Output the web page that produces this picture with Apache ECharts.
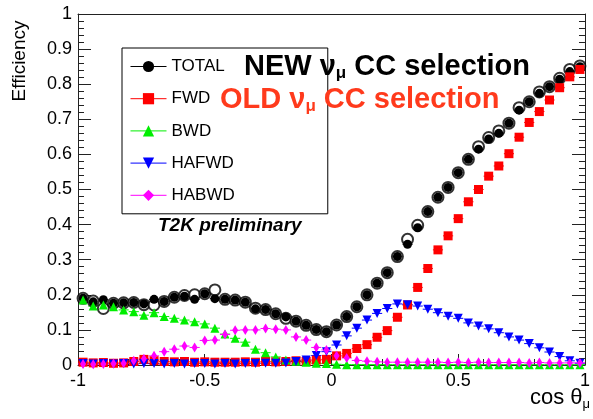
<!DOCTYPE html>
<html>
<head>
<meta charset="UTF-8">
<title>Efficiency vs cos theta</title>
<style>
  body { margin: 0; background: #fff; }
  #chart { width: 593px; height: 419px; }
</style>
</head>
<body>
<div id="chart"></div>
<script src="https://cdn.jsdelivr.net/npm/echarts@6/dist/echarts.min.js"></script>
<script>
// bin centres of cos(theta_mu), 50 bins of width 0.04
const cosBins = [
  -0.98, -0.94, -0.90, -0.86, -0.82, -0.78, -0.74, -0.70, -0.66, -0.62,
  -0.58, -0.54, -0.50, -0.46, -0.42, -0.38, -0.34, -0.30, -0.26, -0.22,
  -0.18, -0.14, -0.10, -0.06, -0.02, 0.02, 0.06, 0.10, 0.14, 0.18,
  0.22, 0.26, 0.30, 0.34, 0.38, 0.42, 0.46, 0.50, 0.54, 0.58,
  0.62, 0.66, 0.70, 0.74, 0.78, 0.82, 0.86, 0.90, 0.94, 0.98
];
const binHalfWidth = 0.02;

const total = [
  0.190, 0.180, 0.186, 0.176, 0.177, 0.178, 0.174, 0.187, 0.181, 0.193,
  0.196, 0.187, 0.203, 0.189, 0.187, 0.185, 0.179, 0.160, 0.158, 0.146,
  0.137, 0.125, 0.113, 0.101, 0.095, 0.114, 0.138, 0.166, 0.200, 0.233,
  0.263, 0.309, 0.344, 0.391, 0.437, 0.478, 0.506, 0.548, 0.586, 0.615,
  0.644, 0.660, 0.689, 0.726, 0.750, 0.774, 0.793, 0.814, 0.836, 0.850
];
// old selection total (open circles)
const totalOld = [
  0.190, 0.182, 0.161, 0.176, 0.177, 0.178, 0.172, 0.171, 0.181, 0.193,
  0.198, 0.200, 0.203, 0.214, 0.187, 0.185, 0.179, 0.162, 0.158, 0.146,
  0.133, 0.125, 0.113, 0.101, 0.095, 0.114, 0.138, 0.166, 0.200, 0.233,
  0.263, 0.309, 0.358, 0.398, 0.437, 0.478, 0.506, 0.548, 0.586, 0.622,
  0.648, 0.667, 0.689, 0.733, 0.750, 0.778, 0.793, 0.817, 0.842, 0.852
];
const fwd = [
  0.008, 0.006, 0.007, 0.005, 0.006, 0.010, 0.016, 0.012, 0.010, 0.009,
  0.010, 0.008, 0.009, 0.008, 0.008, 0.008, 0.009, 0.008, 0.010, 0.009,
  0.010, 0.012, 0.010, 0.014, 0.016, 0.026, 0.033, 0.047, 0.058, 0.079,
  0.098, 0.136, 0.171, 0.221, 0.275, 0.328, 0.368, 0.417, 0.465, 0.500,
  0.538, 0.567, 0.602, 0.649, 0.691, 0.722, 0.755, 0.790, 0.821, 0.842
];
const bwd = [
  0.185, 0.168, 0.171, 0.166, 0.157, 0.152, 0.142, 0.149, 0.138, 0.133,
  0.128, 0.123, 0.117, 0.105, 0.088, 0.076, 0.065, 0.045, 0.035, 0.023,
  0.014, 0.011, 0.008, 0.005, 0.004, 0.002, 0.001, 0.001, 0.001, 0.001,
  0.001, 0.001, 0.001, 0.001, 0.001, 0.001, 0.001, 0.001, 0.001, 0.001,
  0.001, 0.001, 0.001, 0.001, 0.001, 0.001, 0.001, 0.001, 0.001, 0.001
];
const hafwd = [
  0.004, 0.003, 0.004, 0.003, 0.004, 0.003, 0.004, 0.004, 0.003, 0.004,
  0.003, 0.004, 0.004, 0.003, 0.004, 0.003, 0.004, 0.004, 0.005, 0.005,
  0.006, 0.010, 0.014, 0.027, 0.038, 0.057, 0.083, 0.105, 0.128, 0.147,
  0.161, 0.174, 0.172, 0.168, 0.159, 0.149, 0.139, 0.133, 0.120, 0.111,
  0.103, 0.092, 0.080, 0.071, 0.061, 0.049, 0.037, 0.024, 0.012, 0.005
];
const habwd = [
  0.003, 0.002, 0.003, 0.004, 0.005, 0.012, 0.018, 0.026, 0.038, 0.045,
  0.054, 0.050, 0.070, 0.071, 0.087, 0.099, 0.100, 0.100, 0.104, 0.102,
  0.100, 0.080, 0.071, 0.050, 0.043, 0.026, 0.020, 0.013, 0.011, 0.009,
  0.008, 0.008, 0.008, 0.008, 0.008, 0.008, 0.007, 0.008, 0.007, 0.008,
  0.007, 0.007, 0.007, 0.007, 0.006, 0.007, 0.006, 0.006, 0.006, 0.006
];

const seriesDefs = [
  { name: 'TOTAL', values: total, color: '#000000', symbol: 'circle', size: 9, rotate: 0 },
  { name: 'FWD', values: fwd, color: '#ff0000', symbol: 'rect', size: 9, rotate: 0 },
  { name: 'BWD', values: bwd, color: '#00ee00', symbol: 'triangle', size: 9, rotate: 0 },
  { name: 'HAFWD', values: hafwd, color: '#0000ff', symbol: 'triangle', size: 9, rotate: 180 },
  { name: 'HABWD', values: habwd, color: '#ff00ff', symbol: 'diamond', size: [6, 10], rotate: 0 }
];

const font = 'Liberation Sans, Arial, sans-serif';
const oldRed = '#ff3a1c';
const chart = echarts.init(document.getElementById('chart'), null, { renderer: 'canvas' });

function pairs(vals) {
  return cosBins.map((x, i) => [x, vals[i]]);
}

function errBars(color) {
  return function (params, api) {
    const x = api.value(0), y = api.value(1);
    const a = api.coord([x - binHalfWidth, y]);
    const b = api.coord([x + binHalfWidth, y]);
    return {
      type: 'line',
      shape: { x1: a[0], y1: a[1], x2: b[0], y2: b[1] },
      style: { stroke: color, lineWidth: 1 }
    };
  };
}

const series = [];
seriesDefs.forEach(d => {
  series.push({
    name: d.name + ' err',
    type: 'custom',
    renderItem: errBars(d.color),
    data: pairs(d.values),
    silent: true
  });
  if (d.name === 'TOTAL') {
    series.push({
      name: 'TOTAL old',
      type: 'scatter',
      data: pairs(totalOld),
      symbol: 'emptyCircle',
      symbolSize: 11,
      itemStyle: { color: '#000', borderColor: '#000', borderWidth: 1 },
      silent: true
    });
  }
  series.push({
    name: d.name,
    type: 'line',
    data: pairs(d.values),
    symbol: d.symbol,
    symbolSize: d.size,
    symbolRotate: d.rotate,
    showAllSymbol: true,
    lineStyle: { width: 0 },
    itemStyle: { color: d.color },
    animation: false
  });
});

const axisCol = '#222';

chart.setOption({
  animation: false,
  backgroundColor: '#fff',
  grid: { left: 78, right: 1, top: 14, bottom: 54 },
  legend: {
    data: seriesDefs.map(d => d.name),
    orient: 'vertical',
    left: 122,
    top: 48,
    padding: [10, 93, 10, 8],
    itemGap: 15.2,
    itemWidth: 36,
    itemHeight: 14,
    backgroundColor: '#fff',
    borderColor: '#000',
    borderWidth: 1,
    borderRadius: 0,
    lineStyle: { width: 1 },
    textStyle: { fontSize: 17, color: '#000', fontFamily: font }
  },
  xAxis: [{
    type: 'value',
    min: -1, max: 1, interval: 0.5,
    axisLine: { onZero: false, lineStyle: { color: axisCol, width: 1 } },
    axisTick: { inside: true, length: 11, lineStyle: { color: axisCol } },
    minorTick: { show: true, splitNumber: 5, length: 6, lineStyle: { color: axisCol } },
    splitLine: { show: false },
    axisLabel: {
      fontSize: 18, color: '#000', fontFamily: font, margin: 7,
      formatter: v => String(+v.toFixed(1))
    }
  }, {
    type: 'value', position: 'top',
    min: -1, max: 1,
    axisLine: { show: true, onZero: false, lineStyle: { color: axisCol } },
    axisTick: { show: false }, axisLabel: { show: false }, splitLine: { show: false }
  }],
  yAxis: [{
    type: 'value',
    min: 0, max: 1, interval: 0.1,
    axisLine: { show: true, onZero: false, lineStyle: { color: axisCol } },
    axisTick: { inside: true, length: 13, lineStyle: { color: axisCol } },
    minorTick: { show: true, splitNumber: 5, length: 6, lineStyle: { color: axisCol } },
    splitLine: { show: false },
    axisLabel: {
      fontSize: 18, color: '#000', fontFamily: font, margin: 6,
      formatter: v => String(+v.toFixed(1))
    }
  }, {
    type: 'value', position: 'right',
    min: 0, max: 1, interval: 0.1,
    axisLine: { show: true, onZero: false, lineStyle: { color: axisCol } },
    axisTick: { inside: true, length: 13, lineStyle: { color: axisCol } },
    minorTick: { show: true, splitNumber: 5, length: 6, lineStyle: { color: axisCol } },
    splitLine: { show: false },
    axisLabel: { show: false }
  }],
  graphic: [
    {
      type: 'text', x: 20, y: 61, rotation: Math.PI / 2,
      style: { text: 'Efficiency', fontSize: 19, fontFamily: font, fill: '#000', align: 'center', verticalAlign: 'middle' }
    },
    {
      type: 'text', right: 3, top: 386,
      style: {
        text: '{a|cos θ}{s|μ}',
        fontFamily: font,
        rich: {
          a: { fontSize: 22, fontFamily: font, fill: '#000', lineHeight: 26 },
          s: { fontSize: 13, fontFamily: font, fill: '#000', lineHeight: 26, verticalAlign: 'bottom', padding: [12, 0, 0, 0] }
        }
      }
    },
    {
      type: 'text', left: 244, top: 51, z: 100,
      style: {
        text: '{a|NEW ν}{s|μ}{a| CC selection}',
        rich: {
          a: { fontSize: 29, fontWeight: 'bold', fontFamily: font, fill: '#000', lineHeight: 32 },
          s: { fontSize: 17, fontWeight: 'bold', fontFamily: font, fill: '#000', lineHeight: 32, padding: [14, 0, 0, 0] }
        }
      }
    },
    {
      type: 'text', left: 220, top: 84, z: 100,
      style: {
        text: '{a|OLD ν}{s|μ}{a| CC selection}',
        rich: {
          a: { fontSize: 29, fontWeight: 'bold', fontFamily: font, fill: oldRed, lineHeight: 32 },
          s: { fontSize: 17, fontWeight: 'bold', fontFamily: font, fill: oldRed, lineHeight: 32, padding: [14, 0, 0, 0] }
        }
      }
    },
    {
      type: 'text', left: 158, top: 216,
      style: { text: 'T2K preliminary', fontSize: 19, fontWeight: 'bold', fontStyle: 'italic', fontFamily: font, fill: '#000' }
    }
  ],
  series: series
});
</script>
</body>
</html>
